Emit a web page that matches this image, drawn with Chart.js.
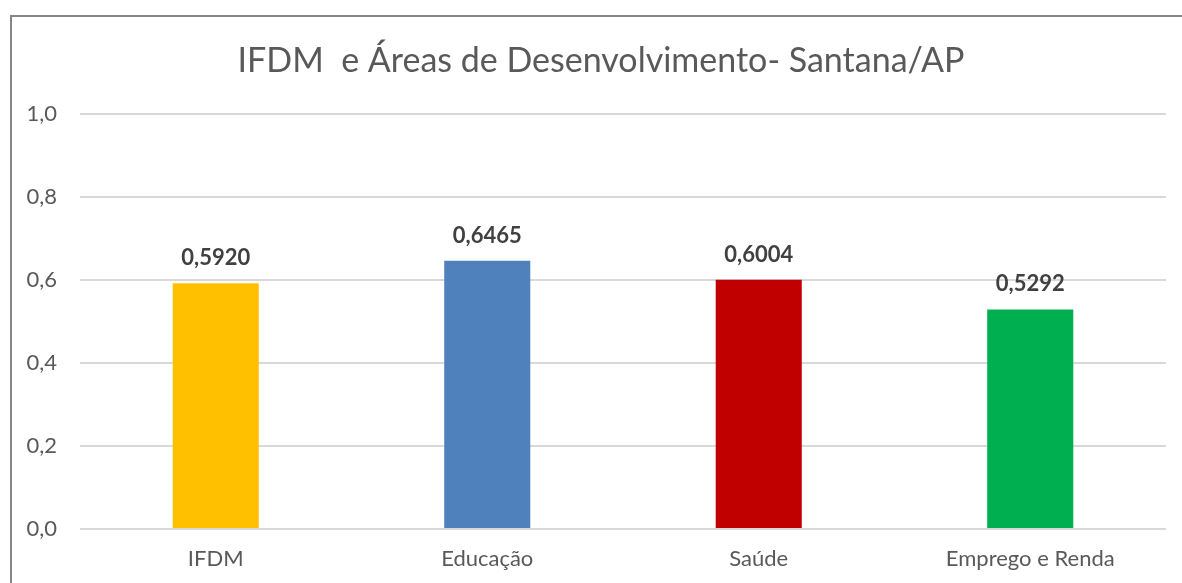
<!DOCTYPE html>
<html>
<head>
<meta charset="utf-8">
<script src="https://cdn.jsdelivr.net/npm/chart.js@4.4.1/dist/chart.umd.min.js"></script>
<style>
  html, body { margin: 0; padding: 0; background: #ffffff; overflow: hidden; width: 1182px; height: 583px; }
  #frame { position: absolute; left: 10px; top: 15px; width: 1300px; height: 700px; border: 2px solid #868686; box-sizing: border-box; }
  #wrap { position: absolute; left: 20px; top: 0px; width: 1162px; height: 583px; }
</style>
</head>
<body>
<div id="frame"></div>
<div id="wrap"><canvas id="c" width="1162" height="583"></canvas></div>
<script>
const chartTitle = "IFDM  e Áreas de Desenvolvimento- Santana/AP";
const categories = ["IFDM", "Educação", "Saúde", "Emprego e Renda"];
const values = [0.5920, 0.6465, 0.6004, 0.5292];
const barColors = ["#FFC000", "#4F81BD", "#C00000", "#00B050"];
const yTicks = [0, 0.2, 0.4, 0.6, 0.8, 1.0];

const FONT = "Lato, 'Open Sans', sans-serif";
const fmtComma = (v, d) => Number(v).toFixed(d).replace('.', ',');

const labelPlugin = {
  id: 'barLabels',
  afterDatasetsDraw(chart) {
    const ctx = chart.ctx;
    const meta = chart.getDatasetMeta(0);
    ctx.save();
    ctx.font = "bold 22px " + FONT;
    ctx.fillStyle = "#404040";
    ctx.textAlign = "center";
    ctx.textBaseline = "middle";
    meta.data.forEach((bar, i) => {
      ctx.fillText(fmtComma(values[i], 4), bar.x, bar.y - 25);
    });
    ctx.restore();
  }
};

const titlePlugin = {
  id: 'centerTitle',
  afterDraw(chart) {
    const ctx = chart.ctx;
    ctx.save();
    ctx.font = "34px " + FONT;
    ctx.fillStyle = "#595959";
    ctx.textAlign = "center";
    ctx.textBaseline = "alphabetic";
    ctx.fillText(chartTitle, 581, 72);
    ctx.restore();
  }
};

new Chart(document.getElementById('c'), {
  type: 'bar',
  data: {
    labels: categories,
    datasets: [{
      data: values,
      backgroundColor: barColors,
      borderWidth: 0,
      categoryPercentage: 1.0,
      barPercentage: 0.317
    }]
  },
  options: {
    responsive: false,
    animation: false,
    devicePixelRatio: 1,
    layout: { padding: { left: 0, right: 16, top: 114, bottom: 0 } },
    plugins: {
      legend: { display: false },
      tooltip: { enabled: false },
      title: { display: false }
    },
    scales: {
      x: {
        grid: { display: false, drawTicks: false },
        border: { display: false },
        ticks: { color: "#595959", font: { family: FONT, size: 22 }, padding: 17, maxRotation: 0 },
        afterFit(scale) { scale.height = 54; }
      },
      y: {
        min: 0, max: 1,
        afterBuildTicks(scale) { scale.ticks = yTicks.map(v => ({ value: v })); },
        grid: { color: "#d9d9d9", lineWidth: 2, drawTicks: false },
        border: { display: false },
        ticks: {
          color: "#595959",
          font: { family: FONT, size: 22 },
          padding: 23,
          callback: (v) => fmtComma(v, 1)
        },
        afterFit(scale) { scale.width = 60; }
      }
    }
  },
  plugins: [labelPlugin, titlePlugin]
});
</script>
</body>
</html>
